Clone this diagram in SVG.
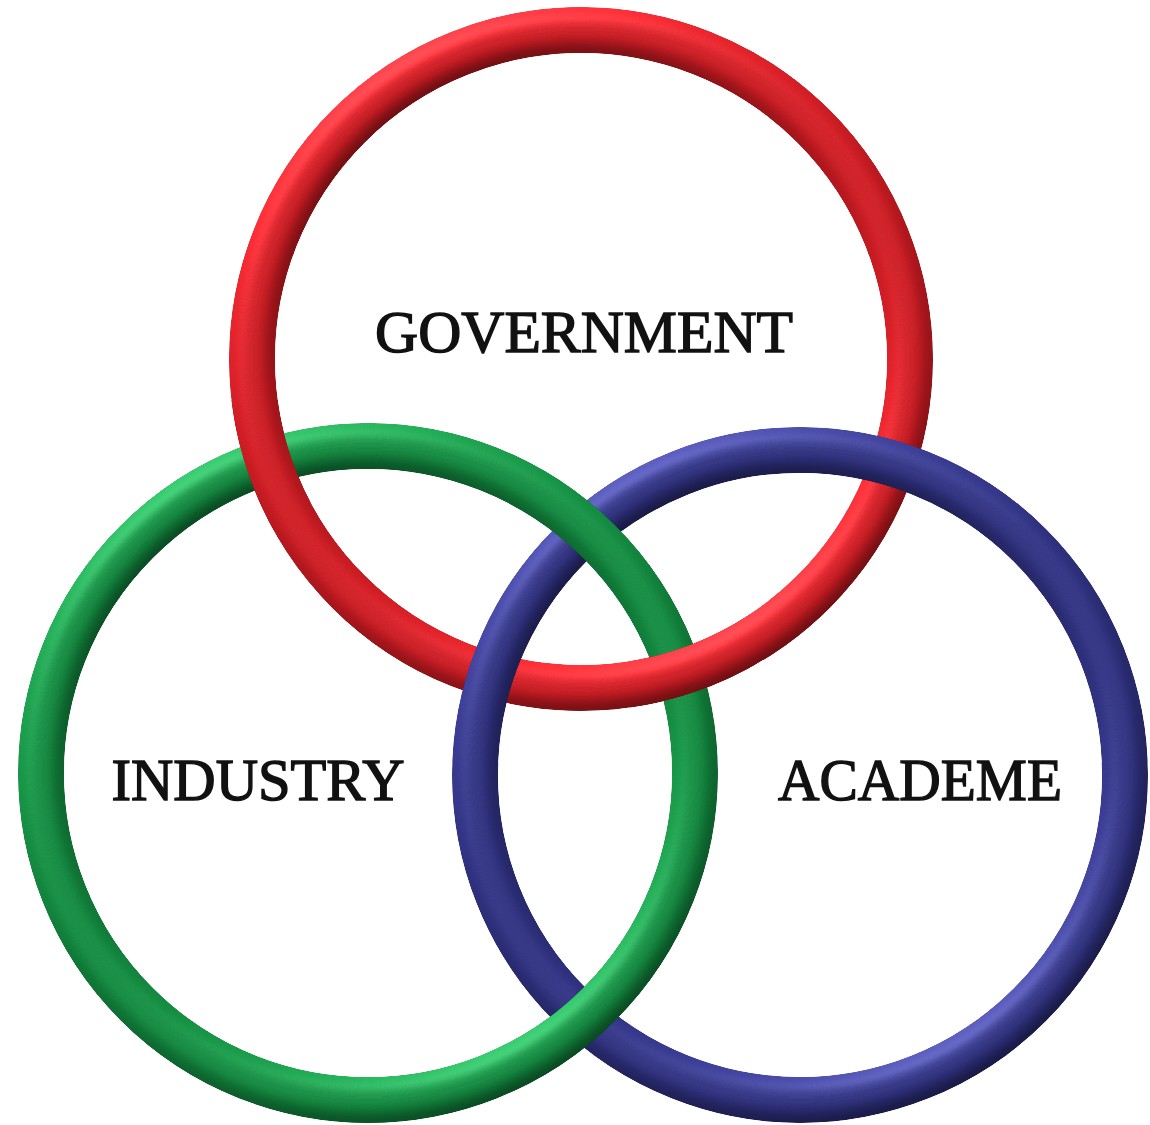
<svg xmlns="http://www.w3.org/2000/svg" width="1150" height="1125" viewBox="0 0 1150 1125">
<defs>
<style>
.ring{fill:none;stroke-width:46;filter:url(#tube)}
.lbl{font-family:"Liberation Serif","Times New Roman",serif;font-weight:normal;font-size:60px;fill:#111;stroke:#111;stroke-width:1.4px;text-anchor:middle}
</style>
<filter id="tube" x="-10%" y="-10%" width="120%" height="120%" color-interpolation-filters="sRGB">
<feGaussianBlur in="SourceAlpha" stdDeviation="9" result="b"/>
<feDiffuseLighting in="b" surfaceScale="7" diffuseConstant="1" lighting-color="#fff" result="d"><feDistantLight azimuth="240" elevation="40"/></feDiffuseLighting>
<feComposite in="SourceGraphic" in2="d" operator="arithmetic" k1="0.75" k2="0.4" k3="0" k4="0" result="shade"/>
<feSpecularLighting in="b" surfaceScale="7" specularConstant="0.4" specularExponent="20" lighting-color="#fff" result="s"><feDistantLight azimuth="240" elevation="45"/></feSpecularLighting>
<feComposite in="s" in2="SourceAlpha" operator="in" result="s2"/>
<feComposite in="shade" in2="s2" operator="arithmetic" k1="0" k2="1" k3="0.45" k4="0" result="lit"/>
<feComposite in="lit" in2="SourceAlpha" operator="in"/>
</filter>
<clipPath id="cA"><rect x="180" y="400" width="130" height="130"/></clipPath>
<clipPath id="cB"><rect x="630" y="605" width="120" height="120"/></clipPath>
</defs>
<rect width="1150" height="1125" fill="#fff"/>
<g id="connectors"></g>
<g id="government-ring"><circle class="ring" cx="581" cy="359" r="329" stroke="#e31e26"/></g>
<g id="academe-ring"><circle class="ring" cx="800" cy="775" r="325" stroke="#34368e"/></g>
<g id="industry-ring"><circle class="ring" cx="368" cy="773" r="327" stroke="#149846"/></g>
<g id="government-overlap">
<g clip-path="url(#cA)"><circle class="ring" cx="581" cy="359" r="329" stroke="#e31e26"/></g>
<g clip-path="url(#cB)"><circle class="ring" cx="581" cy="359" r="329" stroke="#e31e26"/></g>
</g>
<g id="government"><text class="lbl" x="584" y="352" textLength="418" lengthAdjust="spacingAndGlyphs">GOVERNMENT</text></g>
<g id="industry"><text class="lbl" x="258" y="800" textLength="293" lengthAdjust="spacingAndGlyphs">INDUSTRY</text></g>
<g id="academe"><text class="lbl" x="920" y="800" textLength="284" lengthAdjust="spacingAndGlyphs">ACADEME</text></g>
</svg>
